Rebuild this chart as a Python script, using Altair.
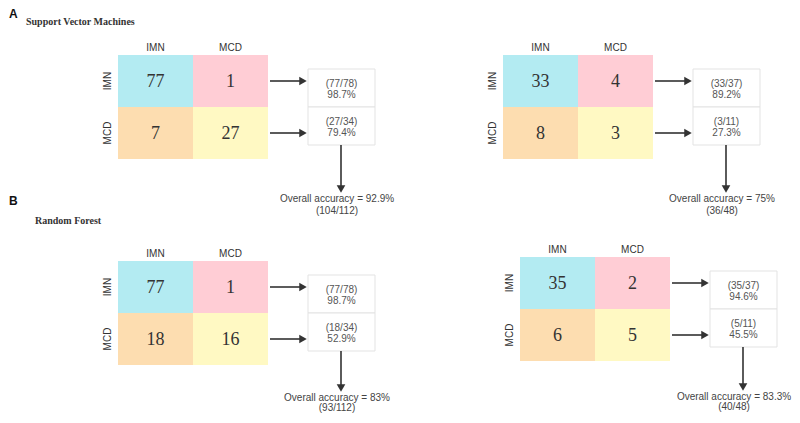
import altair as alt
import pandas as pd

# ---- data ----
classes = ["IMN", "MCD"]
panel_ids = ["A_svm_left", "A_svm_right", "B_rf_left", "B_rf_right"]
matrix_values = [
    [[77, 1], [7, 27]],
    [[33, 4], [8, 3]],
    [[77, 1], [18, 16]],
    [[35, 2], [6, 5]],
]
row_fraction_labels = [
    ["(77/78)", "(27/34)"],
    ["(33/37)", "(3/11)"],
    ["(77/78)", "(18/34)"],
    ["(35/37)", "(5/11)"],
]
row_percent_labels = [
    ["98.7%", "79.4%"],
    ["89.2%", "27.3%"],
    ["98.7%", "52.9%"],
    ["94.6%", "45.5%"],
]
overall_accuracy = ["92.9%", "75%", "83%", "83.3%"]
overall_counts = ["(104/112)", "(36/48)", "(93/112)", "(40/48)"]
section_letters = ["A", "B"]
section_titles = ["Support Vector Machines", "Random Forest"]
cell_colors = [["#B3EBF2", "#FFCDD5"], ["#FDDDB0", "#FFF9C3"]]

# ---- layout (page pixel units) ----
anchors = [(118, 55), (503, 55), (118, 261), (520, 257)]
overall_text_y = [199, 199, 398, 397]
overall_line_gap = [12, 12, 10, 10]
overall_text_dx = [219, 219, 219, 214]
CW, CH = 75, 52
W, H = 784, 407

cells, nums, collab, rowlab, boxes, boxtxt, rules, heads_r, heads_d, overall = ([] for _ in range(10))
for p, (mx, my) in enumerate(anchors):
    for r in range(2):
        for c in range(2):
            x0, y0 = mx + c * CW, my + r * CH
            cells.append(dict(x=x0, x2=x0 + CW, y=y0, y2=y0 + CH, fill=cell_colors[r][c]))
            nums.append(dict(x=x0 + CW / 2, y=y0 + CH / 2 + 1, t=str(matrix_values[p][r][c])))
        collab.append(dict(x=mx + r * CW + CW / 2, y=my - 7, t=classes[r]))
        rowlab.append(dict(x=mx - 10, y=my + r * CH + CH / 2, t=classes[r]))
        bx, by = mx + 190, my + 14 + r * 38
        boxes.append(dict(x=bx, x2=bx + 67, y=by, y2=my + 52 if r == 0 else my + 90))
        ty = my + (29 if r == 0 else 67)
        boxtxt.append(dict(x=bx + 33.5, y=ty, t=row_fraction_labels[p][r]))
        boxtxt.append(dict(x=bx + 33.5, y=ty + 11, t=row_percent_labels[p][r]))
        ay = my + 26 + r * CH
        rules.append(dict(x=mx + 152, x2=mx + 183, y=ay, y2=ay))
        heads_r.append(dict(x=mx + 185, y=ay))
    vx = mx + 223
    oy = overall_text_y[p]
    tip = oy - 6
    rules.append(dict(x=vx, x2=vx, y=my + 90, y2=tip - 5))
    heads_d.append(dict(x=vx, y=tip - 4))
    overall.append(dict(x=mx + overall_text_dx[p], y=oy, t=f"Overall accuracy = {overall_accuracy[p]}"))
    overall.append(dict(x=mx + overall_text_dx[p], y=oy + overall_line_gap[p], t=overall_counts[p]))

letters = [dict(x=9, y=[9, 196][i], t=section_letters[i]) for i in range(2)]
titles = [dict(x=[26, 35][i], y=[22, 221][i], t=section_titles[i]) for i in range(2)]

xs = alt.Scale(domain=[8, 8 + W], nice=False, zero=False)
ys = alt.Scale(domain=[8, 8 + H], nice=False, zero=False, reverse=True)
X = lambda f="x": alt.X(f"{f}:Q", scale=xs, axis=None)
Y = lambda f="y": alt.Y(f"{f}:Q", scale=ys, axis=None)

def df(rows):
    return alt.Data(values=rows)

layer_cells = alt.Chart(df(cells)).mark_rect().encode(
    x=X(), x2="x2:Q", y=Y(), y2="y2:Q", fill=alt.Fill("fill:N", scale=None))
layer_boxes = alt.Chart(df(boxes)).mark_rect(fill="white", stroke="#e3e3e3", strokeWidth=1).encode(
    x=X(), x2="x2:Q", y=Y(), y2="y2:Q")
layer_nums = alt.Chart(df(nums)).mark_text(font="Liberation Serif", fontSize=18, color="#333").encode(
    x=X(), y=Y(), text="t:N")
layer_col = alt.Chart(df(collab)).mark_text(font="Liberation Sans", fontSize=10, color="#333").encode(
    x=X(), y=Y(), text="t:N")
layer_row = alt.Chart(df(rowlab)).mark_text(font="Liberation Sans", fontSize=10, color="#333", angle=270).encode(
    x=X(), y=Y(), text="t:N")
layer_btxt = alt.Chart(df(boxtxt)).mark_text(font="Liberation Sans", fontSize=10, color="#555").encode(
    x=X(), y=Y(), text="t:N")
layer_rules = alt.Chart(df(rules)).mark_rule(color="#333", strokeWidth=1.6).encode(
    x=X(), x2="x2:Q", y=Y(), y2="y2:Q")
layer_hr = alt.Chart(df(heads_r)).mark_point(shape="triangle-right", filled=True, color="#333", size=75, opacity=1).encode(
    x=X(), y=Y())
layer_hd = alt.Chart(df(heads_d)).mark_point(shape="triangle-down", filled=True, color="#333", size=75, opacity=1).encode(
    x=X(), y=Y())
layer_over = alt.Chart(df(overall)).mark_text(font="Liberation Sans", fontSize=10, color="#444").encode(
    x=X(), y=Y(), text="t:N")
layer_letters = alt.Chart(df(letters)).mark_text(font="Liberation Sans", fontSize=12, fontWeight="bold", color="#111", align="left", baseline="top").encode(
    x=X(), y=Y(), text="t:N")
layer_titles = alt.Chart(df(titles)).mark_text(font="Liberation Serif", fontSize=10, fontWeight="bold", color="#333", align="left").encode(
    x=X(), y=Y(), text="t:N")

chart = alt.layer(
    layer_cells, layer_boxes, layer_nums, layer_col, layer_row, layer_btxt,
    layer_rules, layer_hr, layer_hd, layer_over, layer_letters, layer_titles
).properties(width=W, height=H, padding=0, autosize=alt.AutoSizeParams(type="none")
).configure(background="white").configure_view(stroke=None)

chart.save("out.html", embed_options={"renderer": "svg", "actions": False})
